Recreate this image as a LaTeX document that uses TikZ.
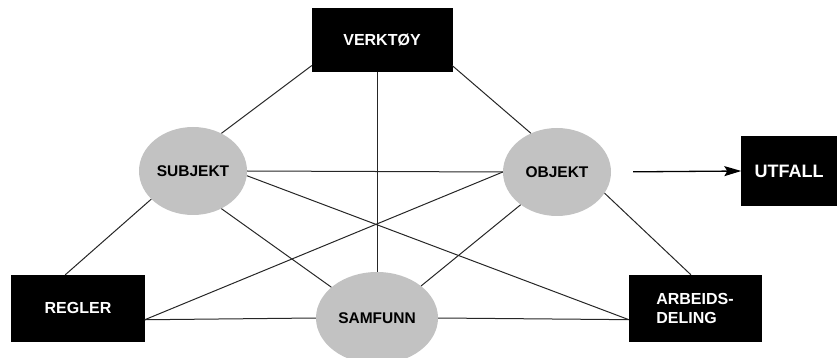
\documentclass[tikz,border=0pt]{standalone}
\usepackage{fontspec}
\setmainfont{Liberation Sans}
\usetikzlibrary{shapes.geometric,arrows.meta}
\definecolor{ovalgray}{HTML}{C2C2C2}
\tikzset{
  boks/.style={draw=black, fill=black, text=white, rectangle, inner sep=0pt,
    font=\fontsize{16}{19}\selectfont\bfseries, align=left},
  oval/.style={ellipse, fill=ovalgray, draw=none, inner sep=0pt,
    font=\fontsize{15.5}{18}\selectfont\bfseries},
  strek/.style={draw=black!85, line width=1pt}
}
\begin{document}
\begin{tikzpicture}[>={Stealth[length=17pt,width=10pt,inset=3pt]}, x=1pt, y=-1pt]

\useasboundingbox (0,0) rectangle (838,358);

\node[boks, minimum width=140pt, minimum height=63pt] (verktoy) at (382,40) {VERKTØY};
\node[boks, minimum width=133pt, minimum height=66pt] (regler) at (78,308) {REGLER};
\node[boks, minimum width=132pt, minimum height=66pt] (arbeid) at (695,308) {ARBEIDS-\\DELING};
\node[boks, minimum width=95pt, minimum height=69pt, font=\fontsize{18}{21}\selectfont\bfseries] (utfall) at (789,171) {UTFALL};

\node[oval, minimum width=108pt, minimum height=88pt] (subjekt) at (193,171) {SUBJEKT};
\node[oval, minimum width=108pt, minimum height=88pt] (objekt) at (557,172) {OBJEKT};
\node[oval, minimum width=122pt, minimum height=92pt] (samfunn) at (377,318) {SAMFUNN};

% trekanten ytterst
\draw[strek] (verktoy.200) -- (subjekt.53);
\draw[strek] (verktoy.-20) -- (objekt.124);
\draw[strek] (samfunn.north) -- (samfunn.north |- verktoy.south);
\draw[strek] (subjekt.214) -- (regler.111);
\draw[strek] (objekt.336) -- (arbeid.97);
\draw[strek] (regler.-10) -- (samfunn.180);
\draw[strek] (samfunn.0) -- (arbeid.190);

% kryssende linjer
\draw[strek] (subjekt.0) -- (objekt.180);
\draw[strek] (subjekt.-5) -- (arbeid.190);
\draw[strek] (objekt.180) -- (regler.-10);
\draw[strek] (subjekt.307) -- (samfunn.146);
\draw[strek] (objekt.222) -- (samfunn.36);

\draw[->, line width=1.3pt, shorten <=22pt] (objekt.east) -- (utfall.west);

\end{tikzpicture}
\end{document}
